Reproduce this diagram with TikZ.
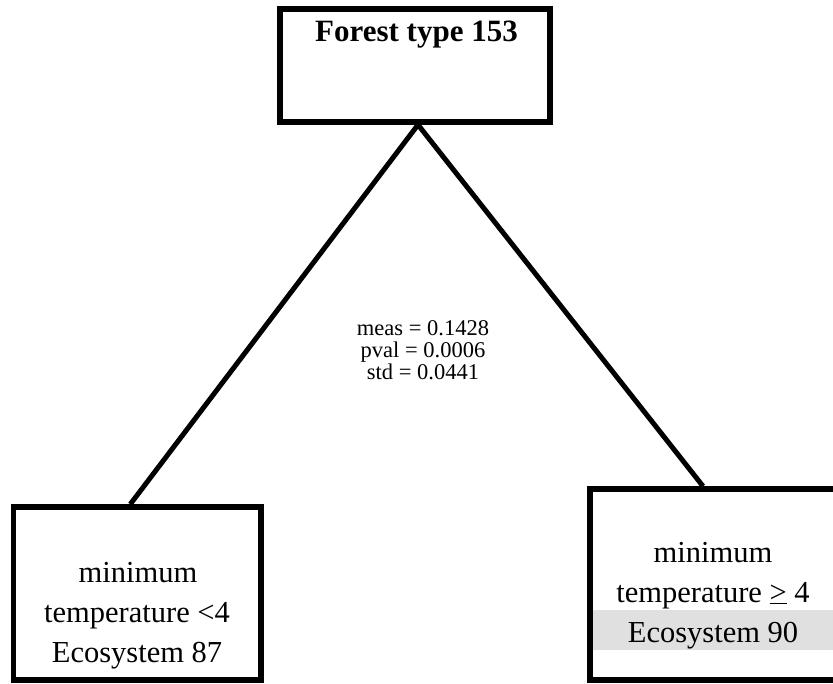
\documentclass[tikz,border=0pt]{standalone}
\usepackage{fontspec}
\setmainfont{Liberation Serif}
\begin{document}
\begin{tikzpicture}[x=1pt,y=-1pt,
  treebox/.style={draw=black,line width=5.5pt,rectangle,inner sep=0pt,fill=none},
  edge/.style={draw=black,line width=5pt},
  leaftext/.style={anchor=base,inner sep=0pt,font=\fontsize{30.5}{40}\selectfont},
  stattext/.style={align=center,inner sep=0pt,font=\fontsize{22.5}{22}\selectfont}]
\clip (0,0) rectangle (833,684);
\fill[white] (0,0) rectangle (833,684);
% boxes
\node[treebox,minimum width=270pt,minimum height=113pt] (top) at (415,65.5) {};
\node[treebox,minimum width=247.5pt,minimum height=173pt] (left) at (137.25,593.5) {};
\fill[black!12] (591,610) rectangle (840,650);
\node[treebox,minimum width=248pt,minimum height=191pt] (right) at (714,584.5) {};
% connectors
\coordinate (apex) at ([xshift=3pt]top.south);
\coordinate (lend) at ([xshift=-7pt]left.north);
\coordinate (rend) at ([xshift=-11pt]right.north);
\draw[edge] (apex) -- (lend);
\draw[edge] (apex) -- (rend);
% texts
\node[anchor=base,inner sep=0pt,font=\fontsize{31}{36}\selectfont\bfseries] (title) at (416.5,42) {Forest type 153};
\node[stattext] (stats) at (423,350) {meas = 0.1428\\pval = 0.0006\\std = 0.0441};
\node[leaftext] (l1) at (138,582) {minimum};
\node[leaftext] (l2) at (137,622) {temperature <4};
\node[leaftext] (l3) at (137,662) {Ecosystem 87};
\node[leaftext] (r1) at (713,562) {minimum};
\node[leaftext] (r2) at (713,602) {temperature \underline{>} 4};
\node[leaftext] (r3) at (713,642) {Ecosystem 90};
\end{tikzpicture}
\end{document}
